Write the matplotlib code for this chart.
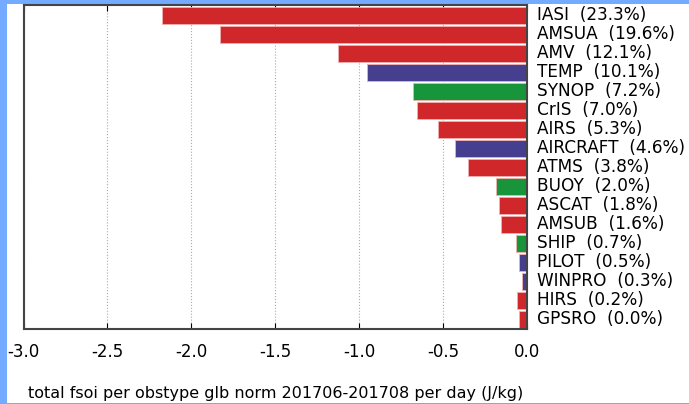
import matplotlib
matplotlib.use('Agg')
import matplotlib.pyplot as plt
from matplotlib.patches import Rectangle
import numpy as np

obstypes = ['IASI', 'AMSUA', 'AMV', 'TEMP', 'SYNOP', 'CrIS', 'AIRS', 'AIRCRAFT',
            'ATMS', 'BUOY', 'ASCAT', 'AMSUB', 'SHIP', 'PILOT', 'WINPRO', 'HIRS', 'GPSRO']
fsoi = [-2.174, -1.828, -1.124, -0.952, -0.678, -0.654, -0.528, -0.431,
        -0.353, -0.184, -0.168, -0.154, -0.064, -0.045, -0.027, -0.057, -0.047]
percent = [23.3, 19.6, 12.1, 10.1, 7.2, 7.0, 5.3, 4.6, 3.8, 2.0, 1.8, 1.6, 0.7, 0.5, 0.3, 0.2, 0.0]
group = ['sat', 'sat', 'sat', 'conv_up', 'conv_sfc', 'sat', 'sat', 'conv_up',
         'sat', 'conv_sfc', 'sat', 'sat', 'conv_sfc', 'conv_up', 'conv_up', 'sat', 'sat']

colors = {'sat': '#d0282a', 'conv_up': '#463e8f', 'conv_sfc': '#18953a'}

fig = plt.figure(figsize=(6.89, 4.04), dpi=100, facecolor='#74aaff')
# white panel inside the blue frame
fig.patches.append(Rectangle((7/689, 1/404), 682/689, 399/404, transform=fig.transFigure,
                             facecolor='white', edgecolor='none', zorder=-10))

ax = fig.add_axes([23.5/689, 1 - 329/404, (527 - 23.5)/689, (329 - 5)/404])
ax.set_zorder(5)

y = np.arange(len(obstypes))
bar_cols = [colors[g] for g in group]
ax.barh(y, fsoi, height=0.85, color=bar_cols, edgecolor='#f0b0b0', linewidth=0.6, zorder=2)

ax.set_xlim(-3.0, 0.0)
ax.set_ylim(len(obstypes) - 0.5, -0.55)
ax.set_yticks([])
ax.set_xticks(np.arange(-3.0, 0.01, 0.5))
ax.set_xticklabels(['%.1f' % v for v in np.arange(-3.0, 0.01, 0.5)], fontsize=12)
ax.tick_params(axis='x', direction='in', length=4, pad=10, top=True)
ax.grid(axis='x', linestyle=':', color='#aaaaaa', linewidth=0.8, zorder=0)

for s in ax.spines.values():
    s.set_color('#444444')
    s.set_linewidth(1.5)

for i in range(len(obstypes)):
    ax.text(1.02, i, '%s  (%.1f%%)' % (obstypes[i], percent[i]),
            transform=ax.get_yaxis_transform(), va='center', ha='left', fontsize=12.2)

ax.set_xlabel('total fsoi per obstype glb norm 201706-201708 per day (J/kg)',
              fontsize=11.5, labelpad=18)

fig.savefig('out.png', dpi=100, facecolor=fig.get_facecolor())
